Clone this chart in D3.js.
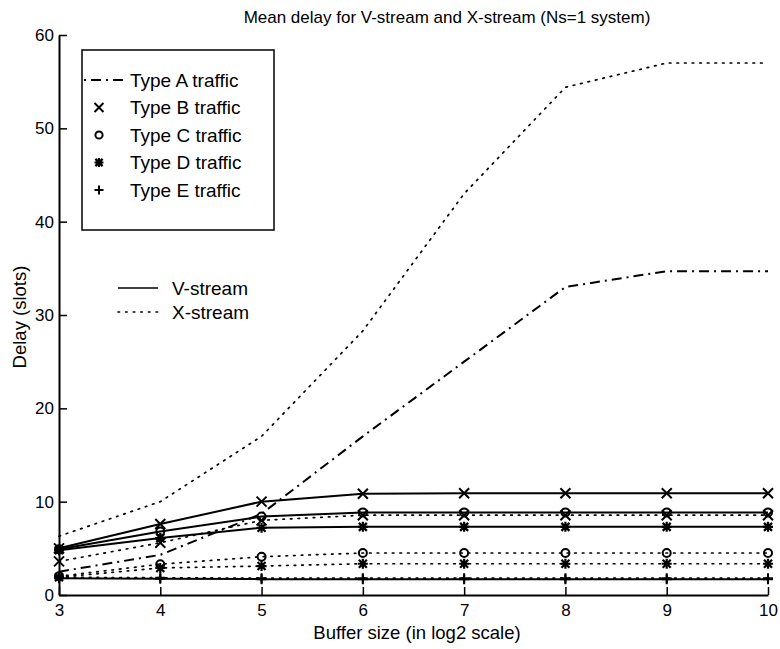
<!DOCTYPE html>
<html>
<head>
<meta charset="utf-8">
<script src="https://cdn.jsdelivr.net/npm/d3@7"></script>
<style>
  html, body { margin: 0; padding: 0; background: #fff; }
  svg { display: block; }
  text { font-family: "Liberation Sans", Arial, Helvetica, sans-serif; fill: #000; }
</style>
</head>
<body>
<svg id="chart" width="780" height="649"></svg>
<script>
// ---- data ----
const bufferSizes = [3, 4, 5, 6, 7, 8, 9, 10];
const xTicks = [3, 4, 5, 6, 7, 8, 9, 10];
const yTicks = [0, 10, 20, 30, 40, 50, 60];

// V-stream (solid / dash-dot for Type A)
const vA = [2.5, 4.3, 8.7, 17.0, 25.0, 33.0, 34.7, 34.7];
const vB = [5.0, 7.6, 10.0, 10.85, 10.9, 10.9, 10.9, 10.9];
const vC = [4.9, 6.8, 8.4, 8.85, 8.85, 8.85, 8.85, 8.85];
const vD = [4.8, 6.1, 7.2, 7.3, 7.3, 7.3, 7.3, 7.3];
const vE = [1.8, 1.75, 1.7, 1.7, 1.7, 1.7, 1.7, 1.7];

// X-stream (dotted)
const xA = [6.3, 10.0, 17.0, 28.3, 43.0, 54.4, 57.0, 57.0];
const xB = [3.6, 5.6, 8.0, 8.55, 8.55, 8.55, 8.55, 8.55];
const xC = [2.0, 3.3, 4.1, 4.5, 4.5, 4.5, 4.5, 4.5];
const xD = [1.9, 2.9, 3.1, 3.35, 3.35, 3.35, 3.35, 3.35];
const xE = [1.9, 1.85, 1.8, 1.8, 1.8, 1.8, 1.8, 1.8];

const typeLabels = ["Type A traffic", "Type B traffic", "Type C traffic", "Type D traffic", "Type E traffic"];
const streamLabels = ["V-stream", "X-stream"];
const titleText = "Mean delay for V-stream and X-stream (Ns=1 system)";
const xLabel = "Buffer size (in log2 scale)";
const yLabel = "Delay (slots)";

// ---- chart ----
const svg = d3.select("#chart");
const x = d3.scaleLinear().domain([3, 10]).range([59, 768]);
const y = d3.scaleLinear().domain([0, 60]).range([595, 35]);

const DOT = "1.6,6";
const DASHDOT = "10,5,2,5";

const series = [
  { vals: vA, dash: DASHDOT, marker: null },
  { vals: xA, dash: DOT, marker: null },
  { vals: vB, dash: null, marker: "x" },
  { vals: xB, dash: DOT, marker: "x" },
  { vals: vC, dash: null, marker: "o" },
  { vals: xC, dash: DOT, marker: "o" },
  { vals: vD, dash: null, marker: "*" },
  { vals: xD, dash: DOT, marker: "*" },
  { vals: vE, dash: null, marker: "+" },
  { vals: xE, dash: DOT, marker: "+" }
];

// axes
const gx = svg.append("g").attr("transform", `translate(0,${y(0)})`)
  .call(d3.axisBottom(x).tickValues(xTicks).tickFormat(d3.format("d")).tickSizeInner(-8).tickSizeOuter(0).tickPadding(9));
const gy = svg.append("g").attr("transform", `translate(${x(3)},0)`)
  .call(d3.axisLeft(y).tickValues(yTicks).tickFormat(d3.format("d")).tickSizeInner(-8).tickSizeOuter(0).tickPadding(5));
[gx, gy].forEach(g => {
  g.select(".domain").attr("stroke", "#000").attr("stroke-width", 2);
  g.selectAll(".tick line").attr("stroke", "#000").attr("stroke-width", 1.5);
  g.selectAll(".tick text").attr("font-size", 17).attr("font-family", "Liberation Sans, Arial, sans-serif").attr("fill", "#000");
});

const line = d3.line().x((d, i) => x(bufferSizes[i])).y(d => y(d));

function drawMarker(g, type, cx, cy, s) {
  const r = s / 2;
  if (type === "x") {
    g.append("path").attr("d", `M${cx - r},${cy - r}L${cx + r},${cy + r}M${cx - r},${cy + r}L${cx + r},${cy - r}`)
      .attr("stroke", "#000").attr("stroke-width", 2).attr("fill", "none");
  } else if (type === "o") {
    g.append("circle").attr("cx", cx).attr("cy", cy).attr("r", r * 0.8)
      .attr("stroke", "#000").attr("stroke-width", 2).attr("fill", "none");
  } else if (type === "+") {
    g.append("path").attr("d", `M${cx - r},${cy}L${cx + r},${cy}M${cx},${cy - r}L${cx},${cy + r}`)
      .attr("stroke", "#000").attr("stroke-width", 2).attr("fill", "none");
  } else if (type === "*") {
    const q = r * 0.8;
    g.append("path").attr("d", `M${cx - r},${cy}L${cx + r},${cy}M${cx},${cy - r}L${cx},${cy + r}M${cx - q},${cy - q}L${cx + q},${cy + q}M${cx - q},${cy + q}L${cx + q},${cy - q}`)
      .attr("stroke", "#000").attr("stroke-width", 2.2).attr("fill", "none");
  }
}

const plot = svg.append("g");
series.forEach(s => {
  plot.append("path").datum(s.vals).attr("d", line)
    .attr("fill", "none").attr("stroke", "#000")
    .attr("stroke-width", s.dash === DOT ? 1.7 : 2)
    .attr("stroke-dasharray", s.dash)
    .attr("stroke-linecap", s.dash === DOT ? "round" : "butt");
});
series.forEach(s => {
  if (!s.marker) return;
  s.vals.forEach((v, i) => drawMarker(plot, s.marker, x(bufferSizes[i]), y(v), 10));
});

// title & labels
svg.append("text").attr("x", 447).attr("y", 23).attr("text-anchor", "middle").attr("font-size", 17).text(titleText);
svg.append("text").attr("x", 417).attr("y", 639).attr("text-anchor", "middle").attr("font-size", 18.5).text(xLabel);
svg.append("text").attr("transform", "translate(26,317) rotate(-90)").attr("text-anchor", "middle").attr("font-size", 18.5).text(yLabel);

// legend box (traffic types)
svg.append("rect").attr("x", 82).attr("y", 50).attr("width", 192).attr("height", 180)
  .attr("fill", "#fff").attr("stroke", "#000").attr("stroke-width", 1.5);
const legRows = [80, 107.5, 135, 162.5, 190];
const legMarkers = [null, "x", "o", "*", "+"];
legRows.forEach((ry, i) => {
  if (i === 0) {
    svg.append("line").attr("x1", 84).attr("x2", 124).attr("y1", ry).attr("y2", ry)
      .attr("stroke", "#000").attr("stroke-width", 1.8).attr("stroke-dasharray", "2,5,10,5");
  } else {
    drawMarker(svg, legMarkers[i], 99, ry, 9);
  }
  svg.append("text").attr("x", 130).attr("y", ry + 6.5).attr("font-size", 19).text(typeLabels[i]);
});

// stream legend
const streamRows = [288, 312];
streamRows.forEach((ry, i) => {
  svg.append("line").attr("x1", 118).attr("x2", 158).attr("y1", ry).attr("y2", ry)
    .attr("stroke", "#000").attr("stroke-width", i === 0 ? 1.5 : 1.6)
    .attr("stroke-dasharray", i === 0 ? null : DOT).attr("stroke-linecap", i === 0 ? "butt" : "round");
  svg.append("text").attr("x", 172).attr("y", ry + 6.5).attr("font-size", 19).text(streamLabels[i]);
});
</script>
</body>
</html>
